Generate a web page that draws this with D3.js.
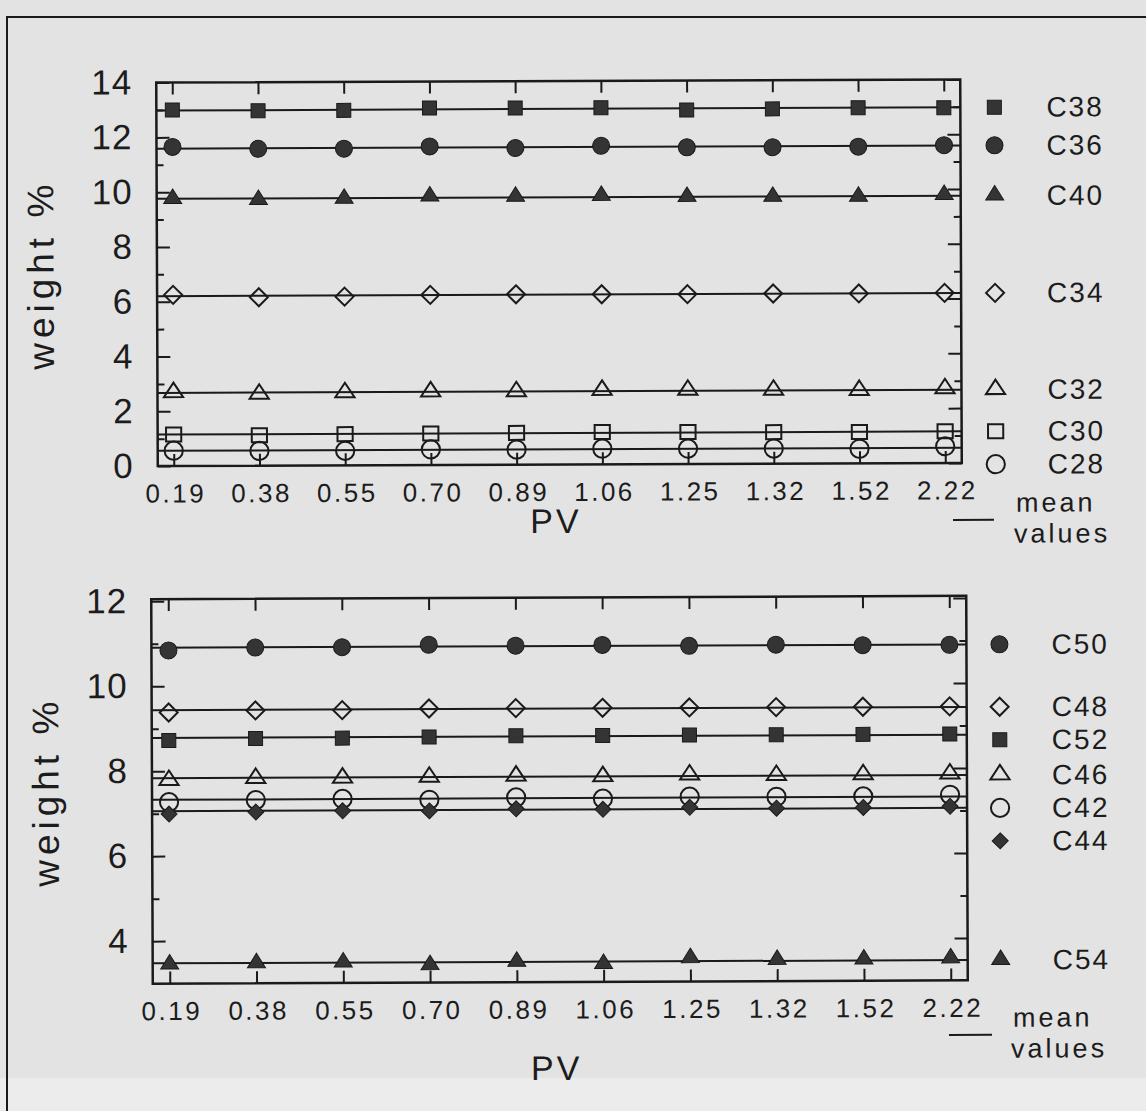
<!DOCTYPE html>
<html>
<head>
<meta charset="utf-8">
<script src="https://cdn.jsdelivr.net/npm/d3@7/dist/d3.min.js"></script>
<style>
body { margin: 0; background: #e4e4e4; }
svg { display: block; }
text { font-family: "Liberation Sans", Arial, sans-serif; fill: #1c1c1c; }
</style>
</head>
<body>
<div id="figure"></div>
<script>
var width = 1146;
var height = 1111;

// PV categories on the x axis (same for both panels)
var pvLabels = ["0.19", "0.38", "0.55", "0.70", "0.89", "1.06", "1.25", "1.32", "1.52", "2.22"];

// upper panel, weight % per PV value
var c38 = [13.00, 12.96, 12.96, 13.03, 13.02, 13.02, 12.92, 12.95, 12.98, 12.97];
var c36 = [11.65, 11.57, 11.56, 11.63, 11.56, 11.63, 11.56, 11.55, 11.56, 11.60];
var c40 = [9.75, 9.70, 9.73, 9.80, 9.78, 9.80, 9.75, 9.74, 9.73, 9.78];
var c34 = [6.25, 6.15, 6.16, 6.21, 6.22, 6.21, 6.20, 6.21, 6.20, 6.21];
var c32 = [2.68, 2.61, 2.65, 2.67, 2.66, 2.70, 2.69, 2.68, 2.66, 2.71];
var c30 = [1.15, 1.11, 1.14, 1.15, 1.16, 1.18, 1.17, 1.15, 1.14, 1.16];
var c28 = [0.56, 0.54, 0.53, 0.57, 0.55, 0.57, 0.56, 0.55, 0.53, 0.61];

// lower panel
var c50 = [10.84, 10.90, 10.90, 10.95, 10.92, 10.93, 10.90, 10.92, 10.90, 10.90];
var c48 = [9.38, 9.42, 9.42, 9.45, 9.45, 9.45, 9.45, 9.45, 9.45, 9.45];
var c52 = [8.72, 8.76, 8.76, 8.78, 8.80, 8.80, 8.80, 8.80, 8.80, 8.80];
var c46 = [7.78, 7.82, 7.82, 7.83, 7.85, 7.83, 7.86, 7.84, 7.85, 7.86];
var c42 = [7.27, 7.31, 7.33, 7.30, 7.35, 7.31, 7.35, 7.34, 7.34, 7.37];
var c44 = [6.99, 7.03, 7.05, 7.04, 7.08, 7.06, 7.10, 7.07, 7.08, 7.10];
var c54 = [3.45, 3.47, 3.48, 3.41, 3.48, 3.42, 3.55, 3.50, 3.50, 3.52];

var topTicksMajor = [0, 2, 4, 6, 8, 10, 12, 14];
var topTicksMinor = [1, 3, 5, 7, 9, 11, 13];
var bottomTicksMajor = [4, 6, 8, 10, 12];
var bottomTicksMinor = [5, 7, 9, 11];

var topSeries = [
  { name: "C38", shape: "square", filled: true, values: c38 },
  { name: "C36", shape: "circle", filled: true, values: c36 },
  { name: "C40", shape: "triangle", filled: true, values: c40 },
  { name: "C34", shape: "diamond", filled: false, values: c34 },
  { name: "C32", shape: "triangle", filled: false, values: c32 },
  { name: "C30", shape: "square", filled: false, values: c30 },
  { name: "C28", shape: "circle", filled: false, values: c28 }
];
var bottomSeries = [
  { name: "C50", shape: "circle", filled: true, values: c50 },
  { name: "C48", shape: "diamond", filled: false, values: c48 },
  { name: "C52", shape: "square", filled: true, values: c52 },
  { name: "C46", shape: "triangle", filled: false, values: c46 },
  { name: "C42", shape: "circle", filled: false, values: c42 },
  { name: "C44", shape: "diamond", filled: true, values: c44 },
  { name: "C54", shape: "triangle", filled: true, values: c54 }
];

var ink = "#1a1a1a";
var markFill = "#343434";

var svg = d3
.select("#figure")
.append("svg")
.attr("width", width)
.attr("height", height);

// paper
svg.append("rect").attr("width", width).attr("height", height).attr("fill", "#e3e3e3");
svg.append("rect").attr("y", 1078).attr("width", width).attr("height", height - 1078).attr("fill", "#ececec");

// page border (top and left edge of the scanned box)
svg.append("path")
.attr("d", "M7," + height + "V17H" + width)
.attr("fill", "none")
.attr("stroke", ink)
.attr("stroke-width", 2);

function markerPath(shape, filled) {
  var p = d3.path();
  var s = filled ? 0 : 0.6;
  if (shape === "square") {
    p.rect(-7 - s, -7, 14 + 2 * s, 14);
  }
  else if (shape === "circle") {
    p.arc(0, 0, 8.5 + s, 0, 2 * Math.PI);
  }
  else if (shape === "triangle") {
    p.moveTo(0, -10);
    p.lineTo(9 + s, 4.5);
    p.lineTo(-9 - s, 4.5);
    p.closePath();
  }
  else {
    var r = filled ? 8 : 9;
    p.moveTo(0, -r);
    p.lineTo(r, 0);
    p.lineTo(0, r);
    p.lineTo(-r, 0);
    p.closePath();
  }
  return p.toString();
}

function drawMarker(sel, d) {
  sel.append("path")
  .attr("d", markerPath(d.shape, d.filled))
  .attr("fill", d.filled ? markFill : "none")
  .attr("stroke", ink)
  .attr("stroke-width", d.filled ? 1 : 2);
}

function drawPanel(p) {
  var cx = (p.x0 + p.x1) / 2;
  var cy = (p.y0 + p.y1) / 2;
  // the scan is slightly tilted
  var g = svg.append("g").attr("transform", "rotate(-0.23," + cx + "," + cy + ")");

  var xScale = d3.scalePoint().domain(pvLabels).range(p.xRange);
  var yScale = d3.scaleLinear().domain(p.yDomain).range([p.y1, p.y0]);

  // mean lines
  p.series.forEach(function(s) {
    var m = d3.mean(s.values);
    g.append("line")
    .attr("x1", p.x0).attr("x2", p.x1)
    .attr("y1", yScale(m)).attr("y2", yScale(m))
    .attr("stroke", ink)
    .attr("stroke-width", 2);
  });

  // points
  p.series.forEach(function(s) {
    g.append("g")
    .selectAll("g")
    .data(s.values)
    .enter()
    .append("g")
    .attr("transform", function(v, i) {
      return "translate(" + xScale(pvLabels[i]) + "," + yScale(v) + ")";
    })
    .each(function() { drawMarker(d3.select(this), s); });
  });

  // axes, ticks pointing inward
  var yLeft = g.append("g")
  .attr("transform", "translate(" + p.x0 + ",0)")
  .call(d3.axisLeft(yScale).tickValues(p.major).tickSize(-13).tickPadding(24));
  yLeft.selectAll("text").attr("font-size", 35).attr("letter-spacing", 1).style("font-family", "Liberation Sans");
  g.append("g")
  .attr("transform", "translate(" + p.x0 + ",0)")
  .call(d3.axisLeft(yScale).tickValues(p.minor).tickSize(-7).tickFormat(""));
  g.append("g")
  .attr("transform", "translate(" + p.x1 + ",0)")
  .call(d3.axisRight(yScale).tickValues(p.major).tickSize(-13).tickFormat(""));
  g.append("g")
  .attr("transform", "translate(" + p.x1 + ",0)")
  .call(d3.axisRight(yScale).tickValues(p.minor).tickSize(-7).tickFormat(""));
  g.append("g")
  .attr("transform", "translate(0," + p.y0 + ")")
  .call(d3.axisTop(xScale).tickSize(-12).tickFormat(""));
  var xBottom = g.append("g")
  .attr("transform", "translate(0," + p.y1 + ")")
  .call(d3.axisBottom(xScale).tickSize(-12).tickPadding(18));
  xBottom.selectAll("text").attr("font-size", 26).attr("letter-spacing", 2.5).attr("dx", 1.5).style("font-family", "Liberation Sans");

  g.selectAll(".domain").remove();
  g.selectAll(".tick line").attr("stroke", ink).attr("stroke-width", 2);
  g.selectAll(".tick text").attr("fill", ink);

  // frame
  g.append("rect")
  .attr("x", p.x0).attr("y", p.y0)
  .attr("width", p.x1 - p.x0).attr("height", p.y1 - p.y0)
  .attr("fill", "none")
  .attr("stroke", ink)
  .attr("stroke-width", 2.5);

  // axis titles
  g.append("text")
  .attr("transform", "translate(" + p.weightX + "," + cy + ")rotate(-90)")
  .attr("text-anchor", "middle")
  .attr("dominant-baseline", "central")
  .attr("font-size", 37)
  .attr("letter-spacing", 5)
  .text("weight %");
  g.append("text")
  .attr("x", cx - 4).attr("y", p.pvY)
  .attr("text-anchor", "middle")
  .attr("font-size", 34)
  .attr("letter-spacing", 3)
  .text("PV");

  // legend, slots follow the mean values and are pushed apart when crowded
  var slots = p.series.map(function(s) {
    return { s: s, y: yScale(d3.mean(s.values)) };
  }).sort(function(a, b) { return a.y - b.y; });
  for (var i = 1; i < slots.length; i++) {
    slots[i].y = Math.max(slots[i].y, slots[i - 1].y + 33);
  }
  slots.forEach(function(d) {
    var lg = g.append("g").attr("transform", "translate(" + p.legendX + "," + d.y + ")");
    drawMarker(lg, d.s);
    lg.append("text")
    .attr("x", p.legendTextX - p.legendX)
    .attr("dominant-baseline", "central")
    .attr("font-size", 28)
    .attr("letter-spacing", 2)
    .text(d.s.name);
  });

  // mean values key
  g.append("line")
  .attr("x1", p.key.x1).attr("x2", p.key.x2)
  .attr("y1", p.key.y).attr("y2", p.key.y)
  .attr("stroke", ink).attr("stroke-width", 2);
  g.append("text")
  .attr("x", p.key.meanX).attr("y", p.key.meanY)
  .attr("font-size", 27).attr("letter-spacing", 3)
  .text("mean");
  g.append("text")
  .attr("x", p.key.valuesX).attr("y", p.key.valuesY)
  .attr("font-size", 27).attr("letter-spacing", 3)
  .text("values");
}

drawPanel({
  x0: 157, x1: 961, y0: 81, y1: 464.5,
  xRange: [173, 944.5],
  yDomain: [0, 14],
  major: topTicksMajor, minor: topTicksMinor,
  series: topSeries,
  weightX: 41, pvY: 533,
  legendX: 995, legendTextX: 1047,
  key: { x1: 952, x2: 993, y: 521.5, meanX: 1015, meanY: 513.5, valuesX: 1013, valuesY: 544.5 }
});

drawPanel({
  x0: 152, x1: 967, y0: 597.5, y1: 982,
  xRange: [169, 950],
  yDomain: [3, 12.05],
  major: bottomTicksMajor, minor: bottomTicksMinor,
  series: bottomSeries,
  weightX: 46, pvY: 1080,
  legendX: 1000, legendTextX: 1052,
  key: { x1: 948, x2: 991, y: 1036.5, meanX: 1012, meanY: 1028.5, valuesX: 1010, valuesY: 1059.5 }
});
</script>
</body>
</html>
